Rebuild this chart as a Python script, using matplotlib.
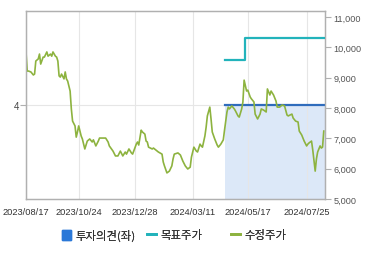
import pandas as pd
import matplotlib
matplotlib.use('Agg')
import matplotlib.pyplot as plt
from matplotlib.patches import Patch
from matplotlib.lines import Line2D

plt.rcParams['font.family'] = ['Liberation Sans', 'Noto Sans CJK KR', 'DejaVu Sans']

# KRX trading calendar (x axis is one slot per trading day)
holidays = ['2023-09-28', '2023-09-29', '2023-10-02', '2023-10-03', '2023-10-09',
            '2023-12-25', '2023-12-29', '2024-01-01', '2024-02-09', '2024-02-12',
            '2024-03-01', '2024-04-10', '2024-05-01', '2024-05-06', '2024-05-15',
            '2024-06-06', '2024-08-15']
trade_days = pd.bdate_range('2023-08-17', '2024-08-16').difference(pd.to_datetime(holidays))

# adjusted close (수정주가)
price_dates = [
    '2023-08-17', '2023-08-18', '2023-08-21', '2023-08-23', '2023-08-25', '2023-08-28',
    '2023-08-29', '2023-08-31', '2023-09-01', '2023-09-04', '2023-09-06', '2023-09-07',
    '2023-09-11', '2023-09-12', '2023-09-14', '2023-09-15', '2023-09-18', '2023-09-20',
    '2023-09-21', '2023-09-22', '2023-09-25', '2023-09-26', '2023-09-27', '2023-10-05',
    '2023-10-06', '2023-10-10', '2023-10-11', '2023-10-13', '2023-10-16', '2023-10-17',
    '2023-10-19', '2023-10-20', '2023-10-23', '2023-10-24', '2023-10-26', '2023-10-27',
    '2023-10-31', '2023-11-02', '2023-11-06', '2023-11-08', '2023-11-09', '2023-11-13',
    '2023-11-15', '2023-11-16', '2023-11-21', '2023-11-23', '2023-11-27', '2023-11-28',
    '2023-12-01', '2023-12-05', '2023-12-07', '2023-12-11', '2023-12-13', '2023-12-15',
    '2023-12-18', '2023-12-20', '2023-12-22', '2023-12-26', '2024-01-02', '2024-01-03',
    '2024-01-04', '2024-01-08', '2024-01-09', '2024-01-11', '2024-01-12', '2024-01-15',
    '2024-01-16', '2024-01-19', '2024-01-22', '2024-01-25', '2024-01-26', '2024-01-31',
    '2024-02-01', '2024-02-02', '2024-02-06', '2024-02-08', '2024-02-14', '2024-02-15',
    '2024-02-16', '2024-02-21', '2024-02-23', '2024-02-27', '2024-02-29', '2024-03-05',
    '2024-03-07', '2024-03-08', '2024-03-12', '2024-03-14', '2024-03-15', '2024-03-19',
    '2024-03-20', '2024-03-21', '2024-03-25', '2024-03-26', '2024-03-27', '2024-03-29',
    '2024-04-01', '2024-04-02', '2024-04-04', '2024-04-08', '2024-04-09', '2024-04-12',
    '2024-04-16', '2024-04-17', '2024-04-19', '2024-04-22', '2024-04-23', '2024-04-25',
    '2024-04-29', '2024-04-30', '2024-05-03', '2024-05-07', '2024-05-09', '2024-05-10',
    '2024-05-13', '2024-05-16', '2024-05-17', '2024-05-21', '2024-05-22', '2024-05-24',
    '2024-05-27', '2024-05-29', '2024-05-31', '2024-06-03', '2024-06-05', '2024-06-10',
    '2024-06-11', '2024-06-13', '2024-06-14', '2024-06-18', '2024-06-20', '2024-06-21',
    '2024-06-25', '2024-06-27', '2024-07-01', '2024-07-03', '2024-07-04', '2024-07-09',
    '2024-07-10', '2024-07-12', '2024-07-16', '2024-07-17', '2024-07-19', '2024-07-22',
    '2024-07-23', '2024-07-25', '2024-07-26', '2024-07-29', '2024-07-31', '2024-08-01',
    '2024-08-05', '2024-08-06', '2024-08-07', '2024-08-09', '2024-08-12', '2024-08-13',
    '2024-08-14',
]
prices = [
    9850, 9220, 9220, 9190, 9090, 9120,
    9550, 9620, 9780, 9450, 9680, 9680,
    9850, 9710, 9780, 9710, 9850, 9710,
    9680, 9550, 9060, 9020, 9120, 8960,
    9190, 8960, 8890, 8560, 7970, 7570,
    7410, 7040, 7210, 7410, 7080, 6980,
    6650, 6910, 6980, 6880, 6950, 6750,
    6910, 7010, 7010, 7010, 6880, 6750,
    6580, 6420, 6420, 6580, 6420, 6550,
    6480, 6650, 6520, 6480, 6810, 6880,
    6780, 7270, 7210, 7140, 6910, 6880,
    6710, 6650, 6680, 6580, 6550, 6480,
    6220, 6090, 5860, 5920, 6090, 6320,
    6480, 6520, 6450, 6250, 6090, 5990,
    6050, 6380, 6710, 6580, 6550, 6810,
    6750, 6710, 7080, 7370, 7740, 8030,
    7640, 7210, 6980, 6780, 6710, 6810,
    6950, 7270, 7870, 8030, 7970, 8070,
    7970, 7900, 7740, 7700, 7970, 8200,
    8920, 8560, 8590, 8360, 8300, 8200,
    7800, 7640, 7800, 7970, 7930, 7870,
    8630, 8430, 8560, 8430, 8230, 8030,
    8030, 8100, 8070, 7770, 7740, 7800,
    7670, 7570, 7540, 7240, 7110, 7010,
    6910, 6750, 6810, 6850, 6910, 6620,
    5920, 6320, 6550, 6750, 6680, 6710,
    7240,
]

# target price (목표주가) and investment opinion (투자의견, left axis)
target_dates = ['2024-04-17', '2024-05-14', '2024-08-16']
target_prices = [9600, 10300, 10300]
opinion_dates = ['2024-04-17', '2024-08-16']
opinion_values = [4, 4]

tick_dates = ['2023-08-17', '2023-10-24', '2023-12-28', '2024-03-11', '2024-05-17', '2024-07-25']
tick_labels = ['2023/08/17', '2023/10/24', '2023/12/28', '2024/03/11', '2024/05/17', '2024/07/25']

pos = {d: i for i, d in enumerate(trade_days)}
def to_x(dates):
    return [pos[pd.Timestamp(d)] for d in dates]

fig = plt.figure(figsize=(3.7, 2.55), dpi=100)
ax = fig.add_axes([26 / 370, 1 - 200 / 255, 299 / 370, 188 / 255])
ax2 = ax.twinx()

# left axis: opinion bar + line
ox = to_x(opinion_dates)
ax.fill_between(ox, 0, opinion_values, color='#dce8f8', lw=0, zorder=1)
ax.plot(ox, opinion_values, color='#2f6cbc', lw=1.6, zorder=3)
ax.set_ylim(0, 8)
ax.set_yticks([4])
ax.set_yticklabels(['4'])
ax.set_xlim(0, len(trade_days) - 1)
ax.set_xticks(to_x(tick_dates))
ax.set_xticklabels(tick_labels)
ax.grid(True, color='#e6e6e6', lw=0.8, zorder=0)

# right axis: prices
ax2.plot(to_x(price_dates), prices, color='#8db33f', lw=1.2, zorder=2)
ax2.plot(to_x(target_dates), target_prices, color='#22b3bb', lw=1.6,
         drawstyle='steps-post', zorder=3)
ax2.set_ylim(5000, 11200)
ax2.set_yticks(range(5000, 11001, 1000))
ax2.set_yticklabels([f'{v:,}' for v in range(5000, 11001, 1000)])

for a in (ax, ax2):
    for s in a.spines.values():
        s.set_color('#b0b0b0')
        s.set_linewidth(0.9)
ax.tick_params(axis='x', length=0, pad=6, labelsize=6.7, colors='#333333')
ax.tick_params(axis='y', length=4, width=0.8, color='#b0b0b0', pad=1, labelsize=7, labelcolor='#444444')
ax2.tick_params(axis='y', length=4, width=0.8, color='#b0b0b0', pad=2, labelsize=6.6, labelcolor='#555555')

# legend: three fixed-width slots like the original
handles = [Patch(color='#2a78d8'),
           Line2D([], [], color='#22b3bb', lw=2),
           Line2D([], [], color='#8db33f', lw=2)]
labels = ['투자의견(좌)', '목표주가', '수정주가']
slots = [62 / 370, 147 / 370, 231 / 370]
for h, lab, x0 in zip(handles, labels, slots):
    leg = fig.legend([h], [lab], loc='center left', bbox_to_anchor=(x0, 0.075),
                     frameon=False, borderpad=0, borderaxespad=0,
                     prop={'family': ['Noto Sans CJK KR', 'DejaVu Sans'], 'size': 8.2},
                     handlelength=0.8, handleheight=0.9, handletextpad=0.35,
                     labelcolor='#333333')
    fig.add_artist(leg)

fig.savefig('out.png', dpi=100)
